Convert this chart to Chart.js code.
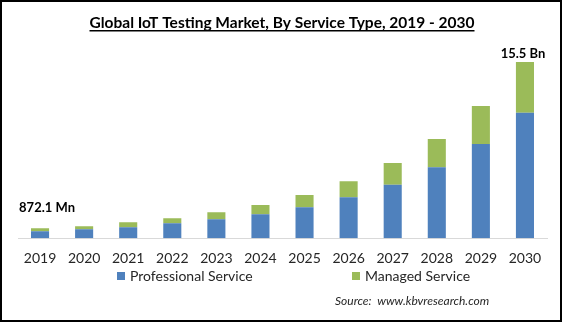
<!DOCTYPE html>
<html>
<head>
<meta charset="utf-8">
<script src="https://cdn.jsdelivr.net/npm/chart.js@4/dist/chart.umd.min.js"></script>
<style>
    html, body { margin: 0; padding: 0; background: #fff; }
    #wrap { position: relative; width: 565px; height: 322px; }
</style>
</head>
<body>
<div id="wrap"><canvas id="chart-iot" width="565" height="322"></canvas></div>
<script>
const years = ['2019', '2020', '2021', '2022', '2023', '2024', '2025', '2026', '2027', '2028', '2029', '2030'];
const professional = [0.62, 0.79, 0.97, 1.32, 1.67, 2.11, 2.73, 3.61, 4.70, 6.25, 8.28, 11.04];
const managed = [0.25, 0.27, 0.44, 0.44, 0.62, 0.80, 1.06, 1.41, 1.91, 2.47, 3.35, 4.46];
const valueLabels = { 0: '872.1 Mn', 11: '15.5 Bn' };

const titleText = 'Global IoT Testing Market, By Service Type, 2019 - 2030';
const sourceText = 'Source:  www.kbvresearch.com';

const fontFamily = 'Lato, "Liberation Sans", sans-serif';

// title, value labels, legend, source and frame
const decorations = {
    id: 'decorations',
    afterDraw(chart) {
        const ctx = chart.ctx;
        ctx.save();

        // frame
        ctx.strokeStyle = '#000';
        ctx.lineWidth = 2;
        ctx.strokeRect(1, 1, 560, 320);

        // title, underlined
        ctx.fillStyle = '#000';
        ctx.font = 'bold 16px ' + fontFamily;
        ctx.textAlign = 'center';
        ctx.textBaseline = 'alphabetic';
        const tw = Math.min(ctx.measureText(titleText).width, 385);
        ctx.fillText(titleText, 282, 28, 385);
        ctx.fillRect(282 - tw / 2, 30, tw, 1.5);

        // value labels above first and last bar
        const meta = chart.getDatasetMeta(1);
        ctx.font = 'bold 13px ' + fontFamily;
        ctx.textBaseline = 'middle';
        Object.keys(valueLabels).forEach(i => {
            const bar = meta.data[i];
            if (i == 0) ctx.fillText(valueLabels[i], bar.x + 7, bar.y - 20);
            else ctx.fillText(valueLabels[i], bar.x - 2, bar.y - 8);
        });

        // legend
        const legendX = [117, 352];
        ctx.font = '14px ' + fontFamily;
        ctx.textAlign = 'left';
        chart.data.datasets.forEach((ds, i) => {
            ctx.fillStyle = ds.backgroundColor;
            ctx.fillRect(legendX[i], 272, 8, 8);
            ctx.fillStyle = '#262626';
            ctx.fillText(ds.label, legendX[i] + 13, 276);
        });

        // source
        ctx.font = 'italic 12px ' + fontFamily;
        ctx.fillStyle = '#262626';
        ctx.fillText(sourceText, 335, 301);

        ctx.restore();
    }
};

new Chart(document.getElementById('chart-iot'), {
    type: 'bar',
    data: {
        labels: years,
        datasets: [
            { label: 'Professional Service', data: professional, backgroundColor: '#4f81bd', categoryPercentage: 1, barPercentage: 0.41 },
            { label: 'Managed Service', data: managed, backgroundColor: '#9bbb59', categoryPercentage: 1, barPercentage: 0.41 },
        ]
    },
    options: {
        responsive: false,
        animation: false,
        devicePixelRatio: 1,
        layout: { padding: { top: 62, left: 18, right: 18, bottom: 43 } },
        scales: {
            x: {
                stacked: true,
                grid: { display: false, drawTicks: false },
                border: { display: true, color: '#d9d9d9', width: 1 },
                ticks: { color: '#262626', padding: 12, font: { family: fontFamily, size: 14 } }
            },
            y: {
                stacked: true,
                display: false,
                min: 0,
                max: 15.5
            }
        },
        plugins: {
            legend: { display: false },
            title: { display: false },
            tooltip: { enabled: false }
        }
    },
    plugins: [decorations]
});
</script>
</body>
</html>
